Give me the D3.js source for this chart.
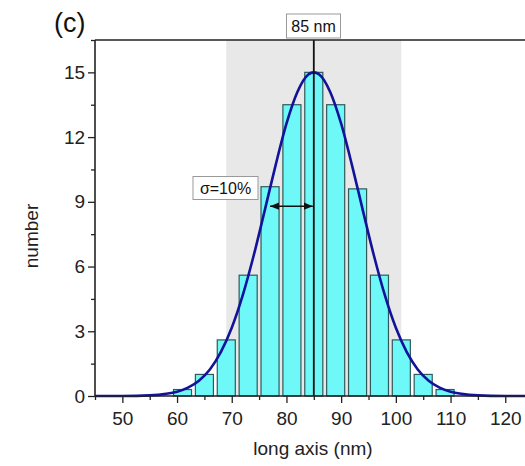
<!DOCTYPE html>
<html>
<head>
<meta charset="utf-8">
<script src="https://cdn.jsdelivr.net/npm/d3@7"></script>
<style>
  body { margin: 0; background: #fff; }
  svg { font-family: "Liberation Sans", Arial, sans-serif; }
</style>
</head>
<body>
<svg id="chart" width="525" height="466"></svg>
<script>
// histogram bins (nm) and counts
const binCenters = [61, 65, 69, 73, 77, 81, 85, 89, 93, 97, 101, 105, 109];
const counts     = [0.3, 1.0, 2.6, 5.6, 9.7, 13.5, 15.0, 13.5, 9.6, 5.6, 2.6, 1.0, 0.3];

// fitted curve
const fitX = [45, 50, 55, 58, 60, 62, 64, 66, 68, 70, 72, 74, 76, 78, 80, 82, 84, 85,
              86, 88, 90, 92, 94, 96, 98, 100, 102, 104, 106, 108, 110, 112, 115, 120, 125];
const fitY = [0, 0.003, 0.03, 0.1, 0.2, 0.39, 0.71, 1.23, 2.03, 3.16, 4.66, 6.5, 8.57, 10.68, 12.62, 14.09, 14.9, 15,
              14.9, 14.09, 12.62, 10.68, 8.57, 6.5, 4.66, 3.16, 2.03, 1.23, 0.71, 0.39, 0.2, 0.1, 0.03, 0.003, 0];

const xTicks = [50, 60, 70, 80, 90, 100, 110, 120];
const yTicks = [0, 3, 6, 9, 12, 15];
const band = [69, 101];
const peak = 85;
const sigmaArrow = [77, 85, 8.8];

const svg = d3.select('#chart');
const plotLeft = 95, plotTop = 40, plotBottom = 396;

const x = d3.scaleLinear().domain([45, 125]).range([plotLeft, plotLeft + 80 * 5.47]);
const y = d3.scaleLinear().domain([0, 16.5]).range([plotBottom, plotTop]);

// grey band
svg.append('rect')
    .attr('x', x(band[0]))
    .attr('y', plotTop)
    .attr('width', x(band[1]) - x(band[0]))
    .attr('height', plotBottom - plotTop)
    .attr('fill', '#e8e8e8');

// bars
const barW = 3.3;
svg.append('g')
    .selectAll('rect')
    .data(binCenters)
    .enter().append('rect')
    .attr('x', d => x(d - barW / 2))
    .attr('y', (d, i) => y(counts[i]))
    .attr('width', x(barW) - x(0))
    .attr('height', (d, i) => plotBottom - y(counts[i]))
    .attr('fill', '#6ef8f8')
    .attr('stroke', '#2f5a5a')
    .attr('stroke-width', 1.2);

// fit curve
const line = d3.line()
    .x((d, i) => x(fitX[i]))
    .y(d => y(d))
    .curve(d3.curveMonotoneX);

svg.append('path')
    .attr('d', line(fitY))
    .attr('fill', 'none')
    .attr('stroke', '#12129a')
    .attr('stroke-width', 2.6);

// peak line
svg.append('line')
    .attr('x1', x(peak)).attr('x2', x(peak))
    .attr('y1', plotTop).attr('y2', plotBottom)
    .attr('stroke', '#111')
    .attr('stroke-width', 1.8);

// sigma arrow
const defs = svg.append('defs');
defs.append('marker')
    .attr('id', 'head')
    .attr('viewBox', '0 0 10 10')
    .attr('refX', 10).attr('refY', 5)
    .attr('markerWidth', 6).attr('markerHeight', 6)
    .attr('orient', 'auto-start-reverse')
    .append('path')
    .attr('d', 'M0,1 L10,5 L0,9 Z')
    .attr('fill', '#111');

svg.append('line')
    .attr('x1', x(sigmaArrow[0])).attr('x2', x(sigmaArrow[1]) - 1)
    .attr('y1', y(sigmaArrow[2])).attr('y2', y(sigmaArrow[2]))
    .attr('stroke', '#111')
    .attr('stroke-width', 1.5)
    .attr('marker-start', 'url(#head)')
    .attr('marker-end', 'url(#head)');

// axes
const xAxis = d3.axisBottom(x)
    .tickValues(d3.range(45, 126, 5))
    .tickSize(6)
    .tickFormat(d => xTicks.includes(d) ? d : '');
const gx = svg.append('g')
    .attr('transform', `translate(0,${plotBottom})`)
    .call(xAxis);
gx.selectAll('.tick line')
    .attr('y2', d => xTicks.includes(d) ? 7 : 4);

const yAxis = d3.axisLeft(y)
    .tickValues(d3.range(0, 16.6, 1.5))
    .tickSize(6)
    .tickFormat(d => yTicks.includes(d) ? d : '');
const gy = svg.append('g')
    .attr('transform', `translate(${plotLeft},0)`)
    .call(yAxis);
gy.selectAll('.tick line')
    .attr('x2', d => yTicks.includes(d) ? -7 : -4);

for (const g of [gx, gy]) {
    g.select('.domain').remove();
    g.selectAll('.tick line').attr('stroke', '#222').attr('stroke-width', 1.3);
    g.selectAll('.tick text')
        .attr('fill', '#222')
        .attr('font-size', 19)
        .attr('font-family', '"Liberation Sans", Arial, sans-serif');
}
gx.selectAll('.tick text').attr('dy', '1.05em');
gy.selectAll('.tick text').attr('dx', '-0.05em');

// frame lines
svg.append('line')
    .attr('x1', plotLeft).attr('x2', 525)
    .attr('y1', plotTop).attr('y2', plotTop)
    .attr('stroke', '#222').attr('stroke-width', 1.6);
svg.append('line')
    .attr('x1', plotLeft).attr('x2', plotLeft)
    .attr('y1', plotTop).attr('y2', plotBottom)
    .attr('stroke', '#222').attr('stroke-width', 1.6);
svg.append('line')
    .attr('x1', plotLeft).attr('x2', 525)
    .attr('y1', plotBottom).attr('y2', plotBottom)
    .attr('stroke', '#222').attr('stroke-width', 1.6);

// labels
svg.append('text')
    .text('long axis (nm)')
    .attr('x', 313).attr('y', 455)
    .attr('text-anchor', 'middle')
    .attr('font-size', 19)
    .attr('fill', '#222');

svg.append('text')
    .text('number')
    .attr('transform', 'translate(38,236) rotate(-90)')
    .attr('text-anchor', 'middle')
    .attr('font-size', 19)
    .attr('fill', '#222');

svg.append('text')
    .text('(c)')
    .attr('x', 54).attr('y', 32)
    .attr('font-size', 27)
    .attr('fill', '#111');

// boxed annotations
function boxLabel(text, cx, cy, w, h, size) {
    svg.append('rect')
        .attr('x', cx - w / 2).attr('y', cy - h / 2)
        .attr('width', w).attr('height', h)
        .attr('fill', '#fff')
        .attr('stroke', '#999')
        .attr('stroke-width', 1);
    svg.append('text')
        .text(text)
        .attr('x', cx).attr('y', cy)
        .attr('dy', '0.36em')
        .attr('text-anchor', 'middle')
        .attr('font-size', size)
        .attr('fill', '#111');
}
boxLabel('85 nm', 313.5, 26, 54, 24, 16);
boxLabel('σ=10%', 225.5, 188, 65, 23, 16);
</script>
</body>
</html>
